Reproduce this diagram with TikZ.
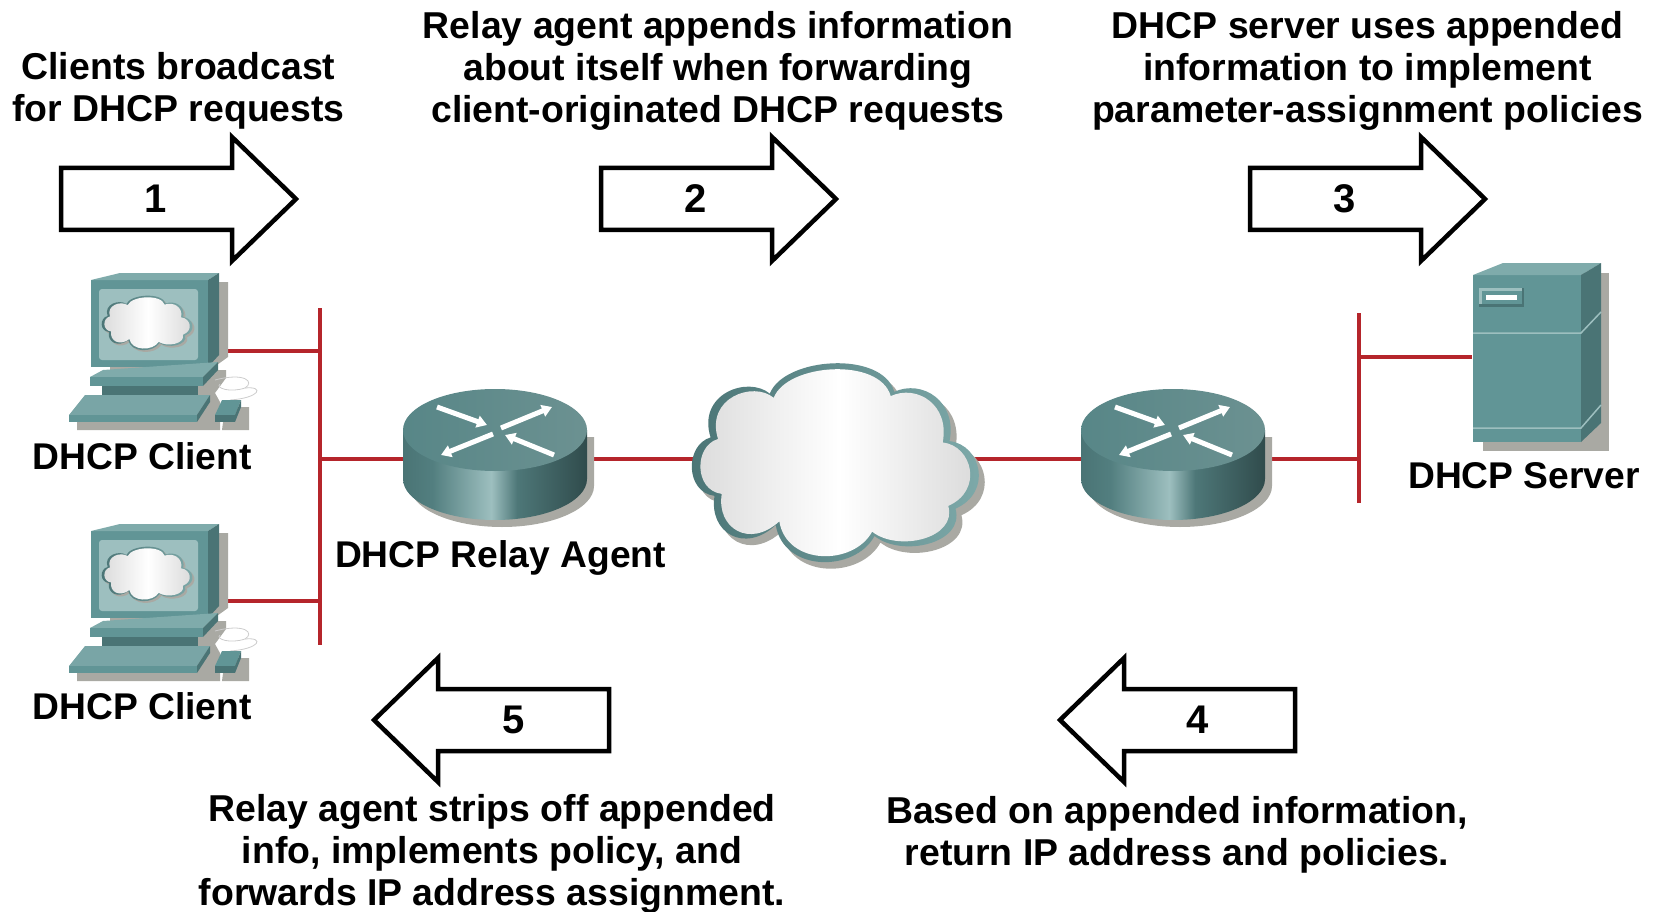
\documentclass[tikz,border=0pt]{standalone}
\usepackage{fontspec}
\setmainfont{Liberation Sans}
\usetikzlibrary{arrows.meta}
\definecolor{teal1}{HTML}{619596}
\definecolor{teal2}{HTML}{4A7475}
\definecolor{teal3}{HTML}{9DBFBF}
\definecolor{teal4}{HTML}{7FABAB}
\definecolor{shadowgrey}{HTML}{A9A9A3}
\definecolor{linkred}{HTML}{B5252B}
\pgfdeclarehorizontalshading{routerside}{100bp}{color(0bp)=(teal2); color(25bp)=(teal2); color(33bp)=(teal1!85!black); color(49bp)=(teal3); color(56bp)=(teal1!80!black); color(75bp)=(teal2!65!black); color(100bp)=(teal2!65!black)}
\newcommand{\cloudoutline}{(-165,-190) .. controls (-130,-290) and (120,-310) .. (150,-195)
  .. controls (220,-230) and (310,-170) .. (290,-60)
  .. controls (370,-50) and (400,80) .. (305,125)
  .. controls (330,220) and (170,260) .. (100,200)
  .. controls (50,300) and (-130,300) .. (-150,170)
  .. controls (-230,250) and (-320,190) .. (-305,90)
  .. controls (-380,80) and (-380,-50) .. (-315,-70)
  .. controls (-350,-190) and (-220,-240) .. cycle}
\tikzset{
  link/.style={draw=linkred,line width=4.5},
  bigarrow/.style={draw=black,fill=white,line width=4.5,miter limit=10},
  caption/.style={font=\fontsize{37.4}{42.2}\selectfont\bfseries,align=center,inner sep=0},
  numlabel/.style={font=\fontsize{40}{42}\selectfont\bfseries,inner sep=0},
  devlabel/.style={font=\fontsize{37.2}{40}\selectfont\bfseries,inner sep=0},
  cloudicon/.pic={
    \fill[shadowgrey] [shift={(15,18)}] \cloudoutline;
    \shade[left color=teal2,right color=teal4] \cloudoutline;
    \shade[scale=.94,left color=black!14,right color=black!15,middle color=white] \cloudoutline;
  },
  routericon/.pic={
    \fill[shadowgrey] (-85,7) -- (99,7) -- (99,56) arc (0:180:92 and 41) -- cycle;
    \shade[shading=routerside] (-92,0) -- (-92,49) arc (180:0:92 and 41) -- (92,0) -- cycle;
    \shade[left color=teal1!90!black,right color=teal4!85!black] (0,0) ellipse (92 and 41);
    \foreach \ax/\ay/\bx/\by in {-58/-23/-8/-5,6/-2/57/-23,-2/4/-54/25,59/25/10/5}
      \draw[white,line width=5,-{Triangle[length=10,width=12]}] (\ax,\ay) -- (\bx,\by);
  },
  clienticon/.pic={
    \fill[shadowgrey] (60,22) -- (178,22) -- (178,97) -- (160,110) -- (176,110) -- (176,118) -- (165,133) -- (170,142) -- (170,170) -- (27,170) -- (27,162) -- (60,130) -- cycle;
    \fill[shadowgrey] (175,147) -- (199,147) -- (199,170) -- (172,170) -- cycle;
    \draw[black!20,line width=.8] (165,120) .. controls (195,112) and (205,122) .. (195,128) .. controls (180,133) and (165,128) .. (170,124);
    \draw[black!20,line width=.8] (195,128) .. controls (215,126) and (210,138) .. (180,140);
    \fill[teal1] (41,20) rectangle (158,107);
    \fill[teal4] (41,20) -- (70,13) -- (169,13) -- (158,20) -- cycle;
    \fill[teal2] (158,20) -- (169,13) -- (169,95) -- (158,107) -- cycle;
    \fill[teal3,rounded corners=3] (49,29) rectangle (148,100);
    \begin{scope}[shift={(97,63)},x=.125pt,y=-.1pt]
      \pic {cloudicon};
    \end{scope}
    \fill[teal4] (53,110) -- (168,102) -- (153,117) -- (40,117) -- cycle;
    \fill[teal1] (40,117) rectangle (153,126);
    \fill[teal2] (153,117) -- (168,102) -- (168,110) -- (153,126) -- cycle;
    \fill[teal2] (52,126) rectangle (148,135);
    \fill[teal1!85!white] (35,135) -- (160,135) -- (147,155) -- (19,155) -- cycle;
    \fill[teal1] (19,155) rectangle (147,162);
    \fill[teal2] (147,155) -- (160,135) -- (160,142) -- (147,162) -- cycle;
    \fill[teal1] (172,140) -- (191,140) -- (185,155) -- (165,155) -- cycle;
    \fill[teal2] (165,155) rectangle (185,162);
    \fill[teal2] (185,155) -- (191,140) -- (191,147) -- (185,162) -- cycle;
  },
  servericon/.pic={
    \fill[shadowgrey] (10,10) rectangle (136,188) ;
    \fill[white] (-1,-1) rectangle (10,188);
    \fill[teal1] (0,12) rectangle (108,179);
    \fill[teal4] (0,12) -- (30,0) -- (128,0) -- (108,12) -- cycle;
    \fill[teal2] (108,12) -- (128,0) -- (128,160) -- (108,179) -- cycle;
    \draw[teal3,line width=1.5] (0,70) -- (108,70) -- (128,49);
    \draw[teal3,line width=1.5] (0,165) -- (108,165) -- (128,142);
    \fill[teal2] (6,25) rectangle (51,44);
    \fill[teal3] (6,25) rectangle (49,41);
    \fill[teal1] (9,28) rectangle (49,41);
    \fill[white] (13,32) rectangle (44,37);
  },
}
\begin{document}
\begin{tikzpicture}[x=1pt,y=-1pt]
  \useasboundingbox (0,0) rectangle (1657,912);
  % anchor points of the network
  \coordinate (client1) at (155,351);
  \coordinate (client2) at (155,601);
  \coordinate (relay) at (495,459);
  \coordinate (wan) at (835,459);
  \coordinate (edge) at (1173,459);
  \coordinate (server) at (1527,357);
  \coordinate (busL1) at (320,308);
  \coordinate (busL2) at (320,645);
  \coordinate (busR1) at (1359,313);
  \coordinate (busR2) at (1359,503);
  % links
  \draw[link] (busL1) -- (busL2);
  \draw[link] (busR1) -- (busR2);
  \draw[link] (client1) -- (client1 -| busL1);
  \draw[link] (client2) -- (client2 -| busL1);
  \draw[link] (relay -| busL1) -- (relay) -- (wan) -- (edge) -- (edge -| busR1);
  \draw[link] (server) -- (server -| busR1);
  % devices
  \pic at (50,260) {clienticon};
  \pic at (50,511) {clienticon};
  \pic at (495,430) {routericon};
  \pic at (1173,430) {routericon};
  \begin{scope}[shift={(835,463)},x=.395pt,y=-.365pt]
    \pic {cloudicon};
  \end{scope}
  \pic at (1473,263) {servericon};
  % step arrows
  \foreach \px/\n in {61/1,601/2,1250/3}{
    \draw[bigarrow] (\px,168) -- (\px+171,168) -- (\px+171,137) -- (\px+235,199) -- (\px+171,261) -- (\px+171,230) -- (\px,230) -- cycle;
    \node[numlabel] (arrow\n) at (\px+95,199) {\n};
  }
  \foreach \px/\nx/\n in {609/514/5,1295/1198/4}{
    \draw[bigarrow] (\px,689) -- (\px-171,689) -- (\px-171,658) -- (\px-235,720) -- (\px-171,782) -- (\px-171,751) -- (\px,751) -- cycle;
    \node[numlabel] (arrow\n) at (\nx,720) {\n};
  }
  % captions
  \node[caption] (text1) at (178.5,91) {Clients broadcast\\for DHCP requests};
  \node[caption] (text2) at (718,71) {Relay agent appends information\\about itself when forwarding\\client-originated DHCP requests};
  \node[caption] (text3) at (1367.5,71) {DHCP server uses appended\\information to implement\\parameter-assignment policies};
  \node[caption] (text4) at (1177,835) {Based on appended information,\\return IP address and policies.};
  \node[caption] (text5) at (492,854) {Relay agent strips off appended\\info, implements policy, and\\forwards IP address assignment.};
  \node[devlabel] (label1) at (142,456) {DHCP Client};
  \node[devlabel] (label2) at (142,706) {DHCP Client};
  \node[devlabel] (label3) at (500.5,558) {DHCP Relay Agent};
  \node[devlabel] (label4) at (1524,476) {DHCP Server};
\end{tikzpicture}
\end{document}
